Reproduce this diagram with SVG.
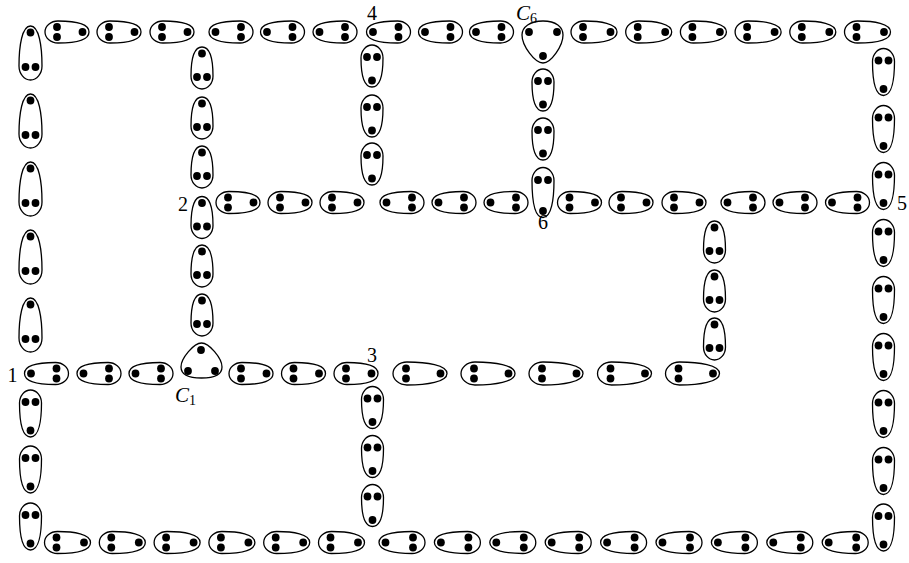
<svg xmlns="http://www.w3.org/2000/svg" xmlns:xlink="http://www.w3.org/1999/xlink" width="909" height="563" viewBox="0 0 909 563">
<style>
.o{fill:none;stroke:#000;stroke-width:1.3}
.d{fill:#000}
.t{font-family:"Liberation Serif","DejaVu Serif",serif;font-size:20px;fill:#000}
.c{font-size:21px;font-style:italic}
.s{font-size:14px;font-style:normal}
</style>
<defs>
<g id="e42"><path class="o" d="M-8,-11C6.5,-11 21,-8.5 21,0C21,8.5 6.5,11 -8,11C-15.2,11 -21,6.07 -21,0C-21,-6.07 -15.2,-11 -8,-11Z"/><circle class="d" cx="-9" cy="-5" r="3.9"/><circle class="d" cx="-9" cy="5" r="3.9"/><circle class="d" cx="14.5" cy="0" r="3.9"/></g>
<g id="e44"><path class="o" d="M-9,-11C6.5,-11 22,-8.5 22,0C22,8.5 6.5,11 -9,11C-16.2,11 -22,6.07 -22,0C-22,-6.07 -16.2,-11 -9,-11Z"/><circle class="d" cx="-10" cy="-5" r="3.9"/><circle class="d" cx="-10" cy="5" r="3.9"/><circle class="d" cx="15.5" cy="0" r="3.9"/></g>
<g id="e46"><path class="o" d="M-10,-11C6.5,-11 23,-8.5 23,0C23,8.5 6.5,11 -10,11C-17.2,11 -23,6.07 -23,0C-23,-6.07 -17.2,-11 -10,-11Z"/><circle class="d" cx="-11" cy="-5" r="3.9"/><circle class="d" cx="-11" cy="5" r="3.9"/><circle class="d" cx="16.5" cy="0" r="3.9"/></g>
<g id="e47"><path class="o" d="M-10.5,-11C6.5,-11 23.5,-8.5 23.5,0C23.5,8.5 6.5,11 -10.5,11C-17.7,11 -23.5,6.07 -23.5,0C-23.5,-6.07 -17.7,-11 -10.5,-11Z"/><circle class="d" cx="-11.5" cy="-5" r="3.9"/><circle class="d" cx="-11.5" cy="5" r="3.9"/><circle class="d" cx="17" cy="0" r="3.9"/></g>
<g id="e50"><path class="o" d="M-12,-11C6.5,-11 25,-8.5 25,0C25,8.5 6.5,11 -12,11C-19.2,11 -25,6.07 -25,0C-25,-6.07 -19.2,-11 -12,-11Z"/><circle class="d" cx="-12.5" cy="-5" r="3.9"/><circle class="d" cx="-12.5" cy="5" r="3.9"/><circle class="d" cx="18.5" cy="0" r="3.9"/></g>
<g id="e54"><path class="o" d="M-13,-11.5C7,-11.5 27,-8.5 27,0C27,8.5 7,11.5 -13,11.5C-20.7,11.5 -27,6.3 -27,0C-27,-6.3 -20.7,-11.5 -13,-11.5Z"/><circle class="d" cx="-14" cy="-5" r="3.9"/><circle class="d" cx="-14" cy="5" r="3.9"/><circle class="d" cx="20.5" cy="0" r="3.9"/></g>
</defs>
<g id="leftcol">
<g id="l1"><use xlink:href="#e54" transform="translate(30.5,53) rotate(-90)"/></g>
<g id="l2"><use xlink:href="#e54" transform="translate(30.5,121) rotate(-90)"/></g>
<g id="l3"><use xlink:href="#e54" transform="translate(30.5,189) rotate(-90)"/></g>
<g id="l4"><use xlink:href="#e54" transform="translate(30.5,257) rotate(-90)"/></g>
<g id="l5"><use xlink:href="#e54" transform="translate(30.5,325) rotate(-90)"/></g>
<g id="l6"><use xlink:href="#e47" transform="translate(30.5,413.5) rotate(90)"/></g>
<g id="l7"><use xlink:href="#e47" transform="translate(30.5,469.5) rotate(90)"/></g>
<g id="l8"><use xlink:href="#e47" transform="translate(30.5,526.5) rotate(90)"/></g>
</g>
<g id="toprow">
<g id="t1"><use xlink:href="#e44" transform="translate(67,32)"/></g>
<g id="t2"><use xlink:href="#e44" transform="translate(119,32)"/></g>
<g id="t3"><use xlink:href="#e44" transform="translate(172,32)"/></g>
<g id="t4"><use xlink:href="#e44" transform="translate(231,32) rotate(180)"/></g>
<g id="t5"><use xlink:href="#e44" transform="translate(282.5,32) rotate(180)"/></g>
<g id="t6"><use xlink:href="#e44" transform="translate(335,32) rotate(180)"/></g>
<g id="t7"><use xlink:href="#e44" transform="translate(388.5,32) rotate(180)"/></g>
<g id="t8"><use xlink:href="#e44" transform="translate(440.5,32) rotate(180)"/></g>
<g id="t9"><use xlink:href="#e44" transform="translate(491.5,32) rotate(180)"/></g>
<g id="t10"><use xlink:href="#e46" transform="translate(594,32)"/></g>
<g id="t11"><use xlink:href="#e46" transform="translate(648.7,32)"/></g>
<g id="t12"><use xlink:href="#e46" transform="translate(703.4,32)"/></g>
<g id="t13"><use xlink:href="#e46" transform="translate(758.1,32)"/></g>
<g id="t14"><use xlink:href="#e46" transform="translate(812.8,32)"/></g>
<g id="t15"><use xlink:href="#e46" transform="translate(867.5,32)"/></g>
</g>
<g id="rightcol">
<g id="r1"><use xlink:href="#e47" transform="translate(883.5,72) rotate(90)"/></g>
<g id="r2"><use xlink:href="#e47" transform="translate(883.5,129) rotate(90)"/></g>
<g id="r3"><use xlink:href="#e47" transform="translate(883.5,186) rotate(90)"/></g>
<g id="r4"><use xlink:href="#e47" transform="translate(883.5,243) rotate(90)"/></g>
<g id="r5"><use xlink:href="#e47" transform="translate(883.5,300) rotate(90)"/></g>
<g id="r6"><use xlink:href="#e47" transform="translate(883.5,357) rotate(90)"/></g>
<g id="r7"><use xlink:href="#e47" transform="translate(883.5,414) rotate(90)"/></g>
<g id="r8"><use xlink:href="#e47" transform="translate(883.5,471) rotate(90)"/></g>
<g id="r9"><use xlink:href="#e47" transform="translate(883.5,527.5) rotate(90)"/></g>
</g>
<g id="bottomrow">
<g id="b1"><use xlink:href="#e46" transform="translate(67.5,542.5)"/></g>
<g id="b2"><use xlink:href="#e46" transform="translate(122.3,542.5)"/></g>
<g id="b3"><use xlink:href="#e46" transform="translate(177.1,542.5)"/></g>
<g id="b4"><use xlink:href="#e46" transform="translate(231.9,542.5)"/></g>
<g id="b5"><use xlink:href="#e46" transform="translate(286.7,542.5)"/></g>
<g id="b6"><use xlink:href="#e46" transform="translate(341.5,542.5)"/></g>
<g id="b7"><use xlink:href="#e46" transform="translate(402,542.5) rotate(180)"/></g>
<g id="b8"><use xlink:href="#e46" transform="translate(457.4,542.5) rotate(180)"/></g>
<g id="b9"><use xlink:href="#e46" transform="translate(512.8,542.5) rotate(180)"/></g>
<g id="b10"><use xlink:href="#e46" transform="translate(568.2,542.5) rotate(180)"/></g>
<g id="b11"><use xlink:href="#e46" transform="translate(623.6,542.5) rotate(180)"/></g>
<g id="b12"><use xlink:href="#e46" transform="translate(679,542.5) rotate(180)"/></g>
<g id="b13"><use xlink:href="#e46" transform="translate(734.4,542.5) rotate(180)"/></g>
<g id="b14"><use xlink:href="#e46" transform="translate(789.8,542.5) rotate(180)"/></g>
<g id="b15"><use xlink:href="#e46" transform="translate(845.2,542.5) rotate(180)"/></g>
</g>
<g id="row1">
<g id="p1"><use xlink:href="#e44" transform="translate(46.5,373.5) rotate(180)"/></g>
<g id="p2"><use xlink:href="#e44" transform="translate(99,373.5) rotate(180)"/></g>
<g id="p3"><use xlink:href="#e44" transform="translate(151,373.5) rotate(180)"/></g>
<g id="p4"><use xlink:href="#e44" transform="translate(251,373.5)"/></g>
<g id="p5"><use xlink:href="#e44" transform="translate(303.5,373.5)"/></g>
<g id="p6"><use xlink:href="#e44" transform="translate(356,373.5)"/></g>
<g id="p7"><use xlink:href="#e54" transform="translate(420,373.5)"/></g>
<g id="p8"><use xlink:href="#e54" transform="translate(488,373.5)"/></g>
<g id="p9"><use xlink:href="#e54" transform="translate(556,373.5)"/></g>
<g id="p10"><use xlink:href="#e54" transform="translate(624.5,373.5)"/></g>
<g id="p11"><use xlink:href="#e54" transform="translate(692.5,373.5)"/></g>
</g>
<g id="midrow">
<g id="m1"><use xlink:href="#e44" transform="translate(238,202.5)"/></g>
<g id="m2"><use xlink:href="#e44" transform="translate(290,202.5)"/></g>
<g id="m3"><use xlink:href="#e44" transform="translate(342,202.5)"/></g>
<g id="m4"><use xlink:href="#e44" transform="translate(402,202.5) rotate(180)"/></g>
<g id="m5"><use xlink:href="#e44" transform="translate(454,202.5) rotate(180)"/></g>
<g id="m6"><use xlink:href="#e44" transform="translate(506,202.5) rotate(180)"/></g>
<g id="m7"><use xlink:href="#e44" transform="translate(579.5,202.5)"/></g>
<g id="m8"><use xlink:href="#e44" transform="translate(631,202.5)"/></g>
<g id="m9"><use xlink:href="#e44" transform="translate(684,202.5)"/></g>
<g id="m10"><use xlink:href="#e44" transform="translate(743,202.5) rotate(180)"/></g>
<g id="m11"><use xlink:href="#e44" transform="translate(795,202.5) rotate(180)"/></g>
<g id="m12"><use xlink:href="#e44" transform="translate(847.5,202.5) rotate(180)"/></g>
</g>
<g id="col2">
<g id="c2a"><use xlink:href="#e42" transform="translate(202,68) rotate(-90)"/></g>
<g id="c2b"><use xlink:href="#e42" transform="translate(202,118) rotate(-90)"/></g>
<g id="c2c"><use xlink:href="#e42" transform="translate(202,167) rotate(-90)"/></g>
<g id="c2d"><use xlink:href="#e42" transform="translate(202,217.5) rotate(-90)"/></g>
<g id="c2e"><use xlink:href="#e42" transform="translate(202,266) rotate(-90)"/></g>
<g id="c2f"><use xlink:href="#e42" transform="translate(202,315) rotate(-90)"/></g>
</g>
<g id="col4">
<g id="c4a"><use xlink:href="#e42" transform="translate(372,66) rotate(90)"/></g>
<g id="c4b"><use xlink:href="#e42" transform="translate(372,116) rotate(90)"/></g>
<g id="c4c"><use xlink:href="#e42" transform="translate(372,164) rotate(90)"/></g>
</g>
<g id="col6">
<g id="c6a"><use xlink:href="#e42" transform="translate(543,90) rotate(90)"/></g>
<g id="c6b"><use xlink:href="#e42" transform="translate(543,139) rotate(90)"/></g>
<g id="c6c"><use xlink:href="#e50" transform="translate(543,192.5) rotate(90)"/></g>
</g>
<g id="colm">
<g id="cma"><use xlink:href="#e42" transform="translate(714.5,242) rotate(-90)"/></g>
<g id="cmb"><use xlink:href="#e42" transform="translate(714.5,291) rotate(-90)"/></g>
<g id="cmc"><use xlink:href="#e42" transform="translate(714.5,339) rotate(-90)"/></g>
</g>
<g id="col3">
<g id="c3a"><use xlink:href="#e42" transform="translate(372.5,407.5) rotate(90)"/></g>
<g id="c3b"><use xlink:href="#e42" transform="translate(372.5,456.5) rotate(90)"/></g>
<g id="c3c"><use xlink:href="#e42" transform="translate(372.5,505.5) rotate(90)"/></g>
</g>
<g id="C6">
<path class="o" d="M543,21C556,21 563,27 563,35C563,46 551,63 543,63C535,63 522,46 522,35C522,27 530,21 543,21Z"/>
<circle class="d" cx="529" cy="32" r="3.9"/><circle class="d" cx="557" cy="32" r="3.9"/><circle class="d" cx="543" cy="56" r="3.9"/>
</g>
<g id="C1">
<path class="o" d="M201.5,343C209,343 222,358 222,367C222,375 214,378 201.5,378C189,378 181,375 181,367C181,358 194,343 201.5,343Z"/>
<circle class="d" cx="201" cy="350" r="3.9"/><circle class="d" cx="188" cy="371" r="3.9"/><circle class="d" cx="215" cy="371" r="3.9"/>
</g>
<g id="labels">
<text class="t" x="12.5" y="382" text-anchor="middle">1</text>
<text class="t" x="183" y="211" text-anchor="middle">2</text>
<text class="t" x="372" y="362" text-anchor="middle">3</text>
<text class="t" x="372" y="20" text-anchor="middle">4</text>
<text class="t" x="902" y="210" text-anchor="middle">5</text>
<text class="t" x="543" y="229" text-anchor="middle">6</text>
<text class="t c" x="516" y="20">C<tspan class="s" dy="3">6</tspan></text>
<text class="t c" x="175" y="402">C<tspan class="s" dy="3">1</tspan></text>
</g>
</svg>
